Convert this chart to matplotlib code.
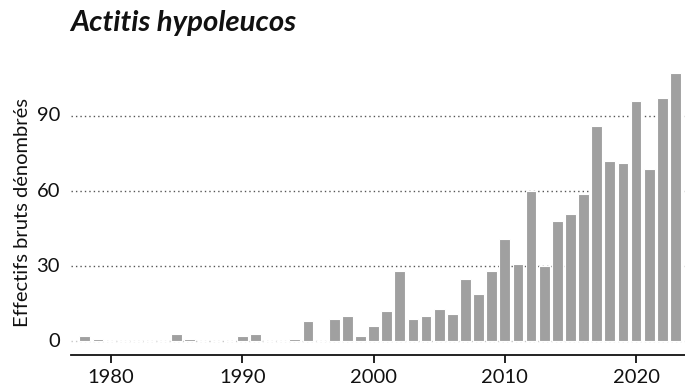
import matplotlib
matplotlib.use("Agg")
import matplotlib.pyplot as plt
from matplotlib.ticker import FixedLocator

years = list(range(1978, 2024))
counts = [2, 1, 0, 0, 0, 0, 0, 3, 1, 0, 0, 0, 2, 3, 0, 0, 1, 8, 0, 9, 10, 2,
          6, 12, 28, 9, 10, 13, 11, 25, 19, 28, 41, 31, 60, 30, 48, 51, 59,
          86, 72, 71, 96, 69, 97, 107]
xticks = [1980, 1990, 2000, 2010, 2020]
yticks = [0, 30, 60, 90]
title = "Actitis hypoleucos"
ylabel = "Effectifs bruts dénombrés"

plt.rcParams['font.family'] = ['Lato', 'DejaVu Sans']

fig = plt.figure(figsize=(6.85, 3.92), dpi=100)
ax = fig.add_axes([71/685, 1 - 355/392, 1 - 71/685, (355 - 70)/392])

ax.bar(years, counts, width=0.82, color='#a0a0a0', edgecolor='white',
       linewidth=0.8, zorder=3)

ax.set_xlim(1976.95, 2023.73)
ax.set_ylim(-5.4, 108.3)

for v in yticks:
    if v == 0:
        ax.axhline(v, color='#c8c8c8', linestyle=(0, (1, 2.2)), linewidth=1.0, zorder=1)
    else:
        ax.axhline(v, color='#555555', linestyle=(0, (1, 2.2)), linewidth=1.0, zorder=1)

ax.xaxis.set_major_locator(FixedLocator(xticks))
ax.yaxis.set_major_locator(FixedLocator(yticks))
ax.tick_params(axis='x', length=5.5, width=1.3, pad=4.5, labelsize=14.5, color='#111111',
               labelcolor='#111111')
ax.tick_params(axis='y', length=0, pad=8, labelsize=14.5, labelcolor='#111111')
for lab in ax.get_yticklabels():
    lab.set_verticalalignment('center')

for s in ['top', 'right', 'left']:
    ax.spines[s].set_visible(False)
ax.spines['bottom'].set_linewidth(1.3)
ax.spines['bottom'].set_color('#111111')

ax.set_ylabel(ylabel, fontsize=14.5, color='#111111')
ax.yaxis.set_label_coords(-(71 - 22) / 614, 0.5)
ax.yaxis.label.set_va('center')

fig.text(70/685, 1 - 23/392, title, fontsize=21.2, fontweight='bold', fontstyle='italic',
         ha='left', va='center', color='#111111')

fig.savefig('out.png', dpi=100)
